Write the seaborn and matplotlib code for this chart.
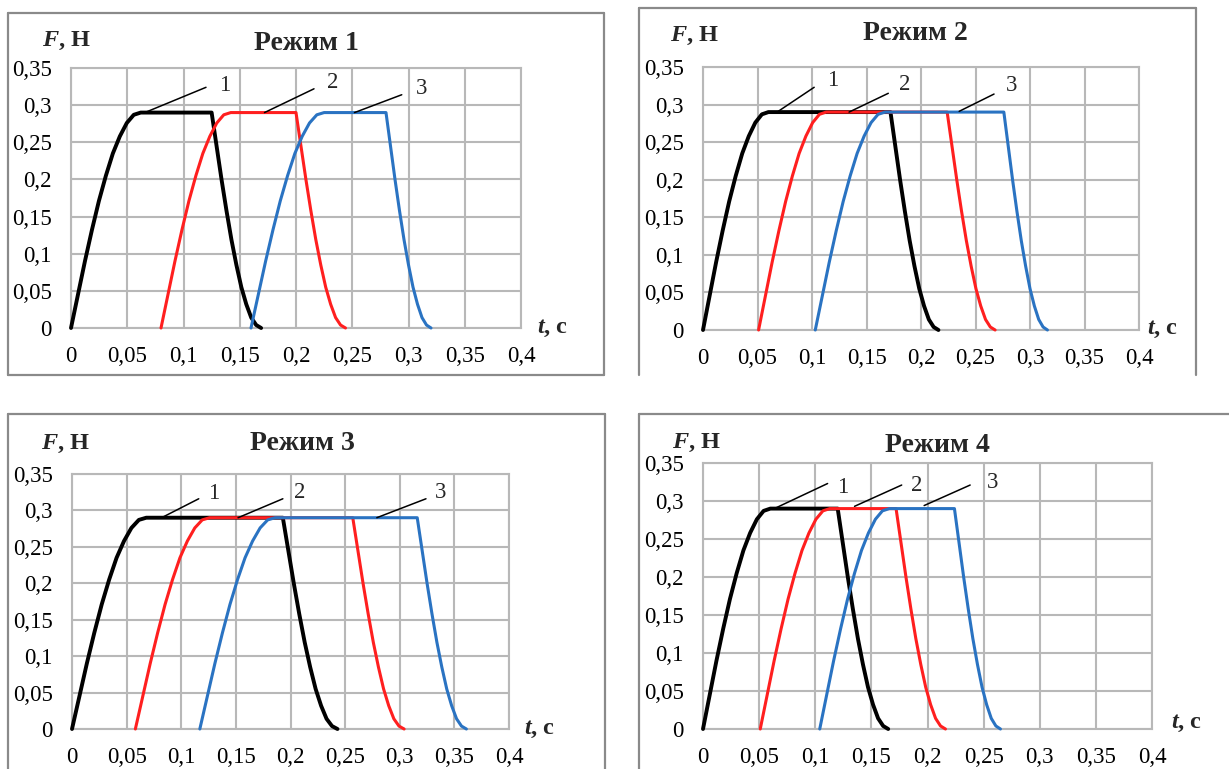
import matplotlib
matplotlib.use("Agg")
import matplotlib.pyplot as plt
from matplotlib.lines import Line2D
import seaborn as sns
import pandas as pd

# ---- data -------------------------------------------------------------
# Force profile shared by all curves: rise (11 pts) followed by fall (11 pts)
F_profile = [0.0, 0.045, 0.090, 0.132, 0.171, 0.205, 0.235, 0.258, 0.276, 0.287, 0.290,
             0.290, 0.245, 0.200, 0.158, 0.119, 0.085, 0.055, 0.032, 0.014, 0.004, 0.0]

# Режим 1
t1_curve1 = [0.0, 0.0062, 0.0124, 0.0186, 0.0248, 0.031, 0.0372, 0.0434, 0.0496, 0.0558, 0.062,
             0.125, 0.1294, 0.1338, 0.1382, 0.1426, 0.147, 0.1514, 0.1558, 0.1602, 0.1646, 0.169]
t1_curve2 = [0.080, 0.0862, 0.0924, 0.0986, 0.1048, 0.111, 0.1172, 0.1234, 0.1296, 0.1358, 0.142,
             0.200, 0.2044, 0.2088, 0.2132, 0.2176, 0.222, 0.2264, 0.2308, 0.2352, 0.2396, 0.244]
t1_curve3 = [0.160, 0.1665, 0.173, 0.1795, 0.186, 0.1925, 0.199, 0.2055, 0.212, 0.2185, 0.225,
             0.280, 0.284, 0.288, 0.292, 0.296, 0.300, 0.304, 0.308, 0.312, 0.316, 0.320]

# Режим 2
t2_curve1 = [0.0, 0.006, 0.012, 0.018, 0.024, 0.030, 0.036, 0.042, 0.048, 0.054, 0.060,
             0.172, 0.1764, 0.1808, 0.1852, 0.1896, 0.194, 0.1984, 0.2028, 0.2072, 0.2116, 0.216]
t2_curve2 = [0.051, 0.0572, 0.0634, 0.0696, 0.0758, 0.082, 0.0882, 0.0944, 0.1006, 0.1068, 0.113,
             0.224, 0.2284, 0.2328, 0.2372, 0.2416, 0.246, 0.2504, 0.2548, 0.2592, 0.2636, 0.268]
t2_curve3 = [0.103, 0.1094, 0.1158, 0.1222, 0.1286, 0.135, 0.1414, 0.1478, 0.1542, 0.1606, 0.167,
             0.276, 0.280, 0.284, 0.288, 0.292, 0.296, 0.300, 0.304, 0.308, 0.312, 0.316]

# Режим 3
t3_curve1 = [0.0, 0.0068, 0.0136, 0.0204, 0.0272, 0.034, 0.0408, 0.0476, 0.0544, 0.0612, 0.068,
             0.193, 0.198, 0.203, 0.208, 0.213, 0.218, 0.223, 0.228, 0.233, 0.238, 0.243]
t3_curve2 = [0.058, 0.0648, 0.0716, 0.0784, 0.0852, 0.092, 0.0988, 0.1056, 0.1124, 0.1192, 0.126,
             0.257, 0.2617, 0.2664, 0.2711, 0.2758, 0.2805, 0.2852, 0.2899, 0.2946, 0.2993, 0.304]
t3_curve3 = [0.117, 0.1239, 0.1308, 0.1377, 0.1446, 0.1515, 0.1584, 0.1653, 0.1722, 0.1791, 0.186,
             0.316, 0.3205, 0.325, 0.3295, 0.334, 0.3385, 0.343, 0.3475, 0.352, 0.3565, 0.361]

# Режим 4
t4_curve1 = [0.0, 0.006, 0.012, 0.018, 0.024, 0.030, 0.036, 0.042, 0.048, 0.054, 0.060,
             0.120, 0.1245, 0.129, 0.1335, 0.138, 0.1425, 0.147, 0.1515, 0.156, 0.1605, 0.165]
t4_curve2 = [0.051, 0.0572, 0.0634, 0.0696, 0.0758, 0.082, 0.0882, 0.0944, 0.1006, 0.1068, 0.113,
             0.172, 0.1764, 0.1808, 0.1852, 0.1896, 0.194, 0.1984, 0.2028, 0.2072, 0.2116, 0.216]
t4_curve3 = [0.104, 0.1102, 0.1164, 0.1226, 0.1288, 0.135, 0.1412, 0.1474, 0.1536, 0.1598, 0.166,
             0.224, 0.2281, 0.2322, 0.2363, 0.2404, 0.2445, 0.2486, 0.2527, 0.2568, 0.2609, 0.265]

titles = ["Режим 1", "Режим 2", "Режим 3", "Режим 4"]
curve_names = ["1", "2", "3"]
x_ticks = [0, 0.05, 0.1, 0.15, 0.2, 0.25, 0.3, 0.35, 0.4]
x_tick_labels = ["0", "0,05", "0,1", "0,15", "0,2", "0,25", "0,3", "0,35", "0,4"]
y_ticks = [0, 0.05, 0.1, 0.15, 0.2, 0.25, 0.3, 0.35]
y_tick_labels = ["0", "0,05", "0,1", "0,15", "0,2", "0,25", "0,3", "0,35"]

panel_times = [
    [t1_curve1, t1_curve2, t1_curve3],
    [t2_curve1, t2_curve2, t2_curve3],
    [t3_curve1, t3_curve2, t3_curve3],
    [t4_curve1, t4_curve2, t4_curve3],
]

# ---- styling ----------------------------------------------------------
sns.set_style("white")
plt.rcParams["font.family"] = ["Liberation Serif", "DejaVu Serif"]
plt.rcParams["mathtext.fontset"] = "custom"
plt.rcParams["mathtext.rm"] = "Liberation Serif"
plt.rcParams["mathtext.bf"] = "Liberation Serif:bold"
plt.rcParams["mathtext.bfit"] = "Liberation Serif:italic:bold"
plt.rcParams["mathtext.it"] = "Liberation Serif:italic"

curve_colors = ["#000000", "#FF1F1F", "#2A73C2"]
curve_widths = [2.8, 2.2, 2.2]
grid_color = "#B8B8B8"
frame_color = "#8A8A8A"

W, H = 1229, 769
fig = plt.figure(figsize=(W / 100, H / 100), dpi=100)


def fx(px):
    return px / W


def fy(py):
    return 1 - py / H


# plot-area boxes in pixels: (left, top, right, bottom)
axes_px = [(71, 68, 521, 328), (703, 67, 1139, 330),
           (72, 474, 509, 729), (703, 463, 1152, 729)]
# headings: (F label left, F label y, title centre x, title y, t label left, t label y)
text_px = [(42, 41, 306, 43, 537, 328),
           (670, 36, 915, 33, 1147, 329),
           (41, 444, 302, 444, 524, 729),
           (672, 443, 937, 446, 1171, 723)]
# callout leader lines and number positions (data units)
callouts = [
    [((0.064, 0.289), (0.120, 0.324), (0.137, 0.327)),
     ((0.172, 0.290), (0.216, 0.322), (0.233, 0.330)),
     ((0.252, 0.290), (0.294, 0.314), (0.312, 0.323))],
    [((0.069, 0.291), (0.102, 0.323), (0.119, 0.332)),
     ((0.134, 0.290), (0.170, 0.315), (0.185, 0.327)),
     ((0.235, 0.291), (0.267, 0.314), (0.283, 0.326))],
    [((0.082, 0.290), (0.116, 0.316), (0.130, 0.323)),
     ((0.152, 0.290), (0.193, 0.316), (0.208, 0.325)),
     ((0.279, 0.290), (0.324, 0.316), (0.337, 0.325))],
    [((0.065, 0.291), (0.111, 0.323), (0.124, 0.318)),
     ((0.135, 0.293), (0.177, 0.321), (0.190, 0.321)),
     ((0.197, 0.294), (0.238, 0.321), (0.258, 0.324))],
]

for i in range(4):
    l, t, r, b = axes_px[i]
    ax = fig.add_axes([fx(l), fy(b), fx(r - l), (b - t) / H])

    for j, times in enumerate(panel_times[i]):
        df = pd.DataFrame({"t": times, "F": F_profile})
        sns.lineplot(data=df, x="t", y="F", ax=ax, sort=False, estimator=None,
                     color=curve_colors[j], linewidth=curve_widths[j],
                     clip_on=False, zorder=3)

    ax.set_xlim(0, 0.4)
    ax.set_ylim(0, 0.35)
    ax.set_xticks(x_ticks)
    ax.set_xticklabels(x_tick_labels)
    ax.set_yticks(y_ticks)
    ax.set_yticklabels(y_tick_labels)
    ax.set_xlabel("")
    ax.set_ylabel("")
    ax.grid(True, color=grid_color, linewidth=1.5)
    for sp in ax.spines.values():
        sp.set_color(grid_color)
        sp.set_linewidth(1.5)
    ax.tick_params(axis="both", direction="out", length=5, width=1.5,
                   color=grid_color, labelsize=16.5, labelcolor="black")
    ax.tick_params(axis="x", pad=8)
    ax.tick_params(axis="y", pad=9)

    for (p0, p1, pt), name in zip(callouts[i], curve_names):
        ax.plot([p0[0], p1[0]], [p0[1], p1[1]], color="black", linewidth=1.1,
                clip_on=False, zorder=4)
        ax.text(pt[0], pt[1], name, ha="center", va="center", fontsize=16.5,
                zorder=5)

    flx, fly, tcx, tcy, tlx, tly = text_px[i]
    fig.text(fx(flx), fy(fly), r"$\mathbfit{F}$, Н", ha="left", va="center",
             fontsize=17.5, fontweight="bold")
    fig.text(fx(tcx), fy(tcy), titles[i], ha="center", va="center",
             fontsize=20, fontweight="bold")
    fig.text(fx(tlx), fy(tly), r"$\mathbfit{t}$, с", ha="left", va="center",
             fontsize=17.5, fontweight="bold")

# panel frames (partly cut at the edges of the sheet)
frames = [
    [(8, 13, 604, 13), (8, 13, 8, 375), (604, 13, 604, 375), (8, 375, 604, 375)],
    [(639, 8, 1196, 8), (639, 8, 639, 375), (1196, 8, 1196, 375)],
    [(8, 414, 605, 414), (8, 414, 8, 769), (605, 414, 605, 769)],
    [(639, 414, 1229, 414), (639, 414, 639, 769)],
]
for segs in frames:
    for x0, y0, x1, y1 in segs:
        fig.add_artist(Line2D([fx(x0), fx(x1)], [fy(y0), fy(y1)],
                              color=frame_color, linewidth=1.6))

fig.savefig("out.png", dpi=100, facecolor="white")
